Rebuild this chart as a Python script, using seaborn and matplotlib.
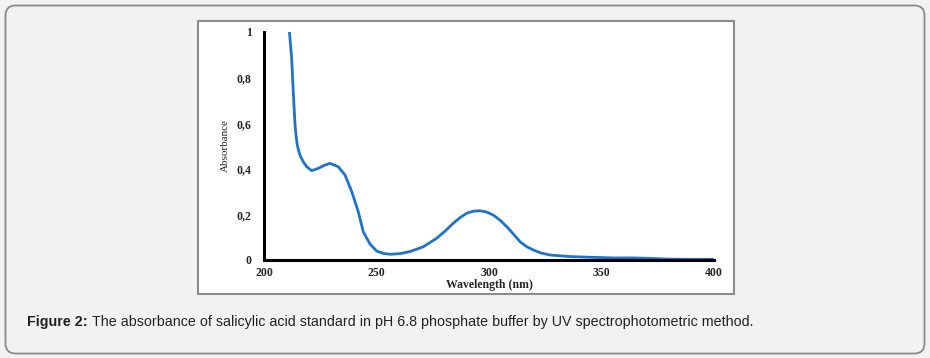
import numpy as np
import pandas as pd
import matplotlib
matplotlib.use("Agg")
import matplotlib.pyplot as plt
import seaborn as sns
from matplotlib.patches import FancyBboxPatch, Rectangle
from matplotlib.transforms import IdentityTransform
from matplotlib.ticker import FuncFormatter

# Absorbance spectrum
wavelength = [211.3, 212.3, 213.0, 213.8, 214.3, 214.8, 215.5, 216.3, 217.5, 219.0,
              221.2, 224.1, 226.8, 229.3, 233.0, 236.0, 239.0, 241.9, 244.1, 247.1,
              250.1, 253.0, 256.0, 260.5, 264.9, 270.8, 276.7, 280.5, 284.1, 287.3,
              290.1, 293.0, 296.0, 299.0, 301.9, 305.0, 307.9, 311.0, 313.8, 316.8,
              319.7, 323.0, 327.1, 336.0, 345.0, 356.0, 365.0, 372.0, 379.0, 390.0,
              399.5]
absorbance = [1.000, 0.885, 0.738, 0.592, 0.540, 0.504, 0.475, 0.453, 0.430, 0.409,
              0.392, 0.402, 0.415, 0.424, 0.409, 0.373, 0.300, 0.212, 0.124, 0.070,
              0.039, 0.029, 0.025, 0.028, 0.037, 0.058, 0.095, 0.127, 0.161, 0.187,
              0.205, 0.214, 0.216, 0.210, 0.197, 0.174, 0.146, 0.112, 0.080, 0.058,
              0.044, 0.031, 0.022, 0.015, 0.012, 0.009, 0.009, 0.007, 0.004, 0.003,
              0.003]

x_ticks = [200, 250, 300, 350, 400]
y_ticks = [0, 0.2, 0.4, 0.6, 0.8, 1.0]

caption_bold = "Figure 2:"
caption_text = "The absorbance of salicylic acid standard in pH 6.8 phosphate buffer by UV spectrophotometric method."

df = pd.DataFrame({"Wavelength": wavelength, "Absorbance": absorbance})

sns.set_theme(style="white")
plt.rcParams["font.family"] = ["Liberation Serif", "DejaVu Serif"]

W, H = 930, 358
fig = plt.figure(figsize=(W / 100, H / 100), dpi=100, facecolor="#f2f2f2")

# outer rounded panel
fig.add_artist(FancyBboxPatch((5.5, 4.5), 919, 348, boxstyle="round,pad=0,rounding_size=10",
                              transform=IdentityTransform(), facecolor="#f2f2f2",
                              edgecolor="#8a8a8a", linewidth=1.3, zorder=-10))
# inner white image box
fig.add_artist(Rectangle((197.5, H - 294), 536, 273, transform=IdentityTransform(),
                         facecolor="white", edgecolor="#8c8c8c", linewidth=1.5, zorder=-9))

ax = fig.add_axes([264 / W, (H - 260) / H, 450 / W, 228 / H])
ax.set_facecolor("none")
sns.lineplot(data=df, x="Wavelength", y="Absorbance", ax=ax, color="#1f73c9",
             linewidth=2.0, solid_joinstyle="round", solid_capstyle="round")

ax.set_xlim(200, 400)
ax.set_ylim(0, 1)
ax.set_xticks(x_ticks)
ax.set_yticks(y_ticks)
ax.yaxis.set_major_formatter(FuncFormatter(lambda v, p: "1" if v == 1 else ("0" if v == 0 else f"{v:.1f}".replace(".", ","))))
for sp in ["top", "right"]:
    ax.spines[sp].set_visible(False)
for sp in ["left", "bottom"]:
    ax.spines[sp].set_color("black")
    ax.spines[sp].set_linewidth(2.2)
ax.tick_params(axis="both", direction="out", length=4, width=1.2, color="black",
               labelsize=8.5)
ax.tick_params(axis="y", pad=5)
ax.tick_params(axis="x", pad=1)
for lab in ax.get_xticklabels() + ax.get_yticklabels():
    lab.set_fontweight("bold")
ax.set_xlabel("Wavelength (nm)", fontsize=8.5, fontweight="bold", labelpad=0)
ax.set_ylabel("Absorbance", fontsize=8, labelpad=5)

# caption
cap_font = ["Liberation Sans", "DejaVu Sans"]
t1 = fig.text(27 / W, (H - 322) / H, caption_bold, fontsize=10.3, fontweight="bold",
              family=cap_font, va="center", color="#222222")
fig.canvas.draw()
x_end = t1.get_window_extent().x1
fig.text((x_end + 4) / W, (H - 322) / H, caption_text, fontsize=10.3,
         family=cap_font, va="center", color="#222222")

fig.savefig("out.png", dpi=100, facecolor=fig.get_facecolor())
